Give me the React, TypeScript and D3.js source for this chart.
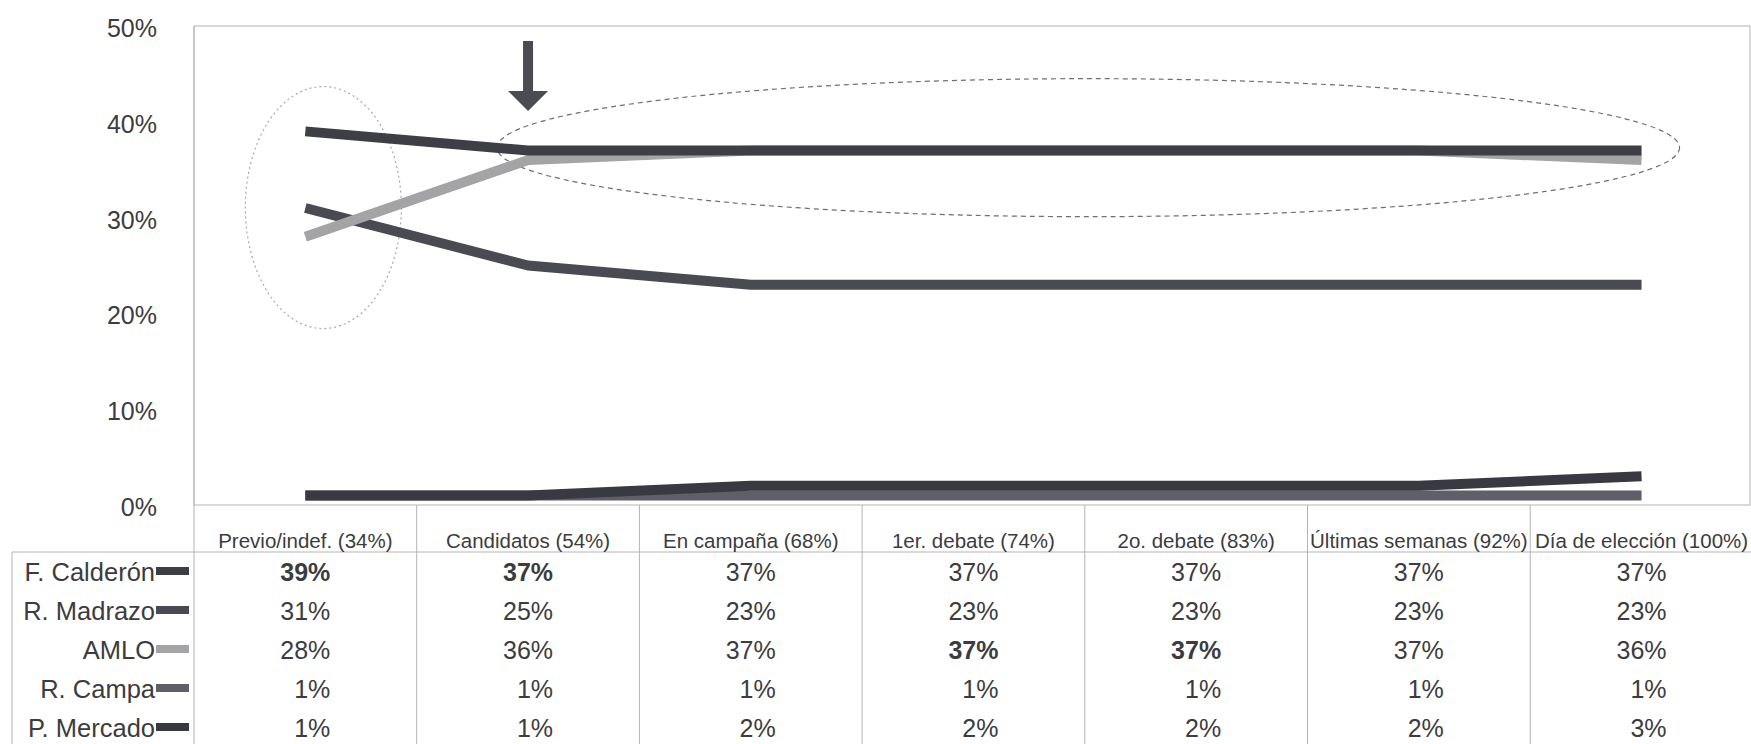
import React from "react";
import * as d3 from "d3";

const categories = [
  "Previo/indef. (34%)",
  "Candidatos (54%)",
  "En campaña (68%)",
  "1er. debate (74%)",
  "2o. debate (83%)",
  "Últimas semanas (92%)",
  "Día de elección (100%)",
];
const seriesNames = ["F. Calderón", "R. Madrazo", "AMLO", "R. Campa", "P. Mercado"];
const calderon = [39, 37, 37, 37, 37, 37, 37];
const madrazo = [31, 25, 23, 23, 23, 23, 23];
const amlo = [28, 36, 37, 37, 37, 37, 36];
const campa = [1, 1, 1, 1, 1, 1, 1];
const mercado = [1, 1, 2, 2, 2, 2, 3];
const yTicks = [0, 10, 20, 30, 40, 50];
// [series index, category index] of values printed in bold
const boldCells = [
  [0, 0],
  [0, 1],
  [2, 3],
  [2, 4],
];

const seriesValues = [calderon, madrazo, amlo, campa, mercado];
const seriesColors = ["#3e3e47", "#4a4a52", "#a4a4a6", "#5f5f67", "#393941"];
const drawOrder = [3, 4, 1, 2, 0];

const W = 1751;
const H = 744;
const FONT = "'Liberation Sans', Arial, sans-serif";
const TEXT = "#3c3c3f";
const GRID = "#b4b4b8";

export default function App() {
  const plotLeft = 194;
  const colW = 222.7;
  const plotTop = 26;
  const plotBottom = 505;
  const tableTop = 552;
  const rowH = 39;

  const x = d3
    .scaleBand<string>()
    .domain(categories)
    .range([plotLeft, plotLeft + colW * categories.length])
    .paddingInner(0)
    .paddingOuter(0);
  const cx = (i: number) => (x(categories[i]) as number) + x.bandwidth() / 2;
  const y = d3.scaleLinear().domain([0, 50]).range([plotBottom, plotTop]);

  const line = d3
    .line<number>()
    .x((_, i) => cx(i))
    .y((d) => y(d));

  const isBold = (s: number, c: number) =>
    boldCells.some(([a, b]) => a === s && b === c);

  const dividers = categories.map((c) => x(c) as number);
  dividers.push(plotLeft + colW * categories.length);

  // annotation shapes positioned via scales
  const e1 = { cx: cx(0) + 18, cy: y(31.05), rx: 78, ry: 121 };
  const e2Left = cx(1) - 31;
  const e2Right = cx(6) + 38;
  const e2 = {
    cx: (e2Left + e2Right) / 2,
    cy: y(37.3),
    rx: (e2Right - e2Left) / 2,
    ry: 69,
  };
  const ax = cx(1);
  const arrowPath = `M${ax - 5},41 L${ax + 5},41 L${ax + 5},91 L${ax + 20},91 L${ax},111 L${ax - 20},91 L${ax - 5},91 Z`;

  return (
    <svg
      width={W}
      height={H}
      style={{ position: "fixed", left: 0, top: 0, background: "#fff" }}
      fontFamily={FONT}
    >
      <rect x={0} y={0} width={W} height={H} fill="#fff" />
      {/* plot frame */}
      <rect
        x={plotLeft}
        y={plotTop}
        width={W - 1 - plotLeft}
        height={plotBottom - plotTop}
        fill="none"
        stroke={GRID}
        strokeWidth={1}
      />
      {/* y-axis labels */}
      {yTicks.map((t) => (
        <text
          key={t}
          x={157}
          y={y(t) + 11}
          textAnchor="end"
          fontSize={25}
          fill={TEXT}
        >
          {t}%
        </text>
      ))}

      {/* ellipses */}
      <ellipse
        cx={e1.cx}
        cy={e1.cy}
        rx={e1.rx}
        ry={e1.ry}
        fill="none"
        stroke="#a8a8ac"
        strokeWidth={1.2}
        strokeDasharray="2 3"
      />
      <ellipse
        cx={e2.cx}
        cy={e2.cy}
        rx={e2.rx}
        ry={e2.ry}
        fill="none"
        stroke="#6e6e74"
        strokeWidth={1.2}
        strokeDasharray="5 4"
      />

      {/* series lines */}
      {drawOrder.map((s) => (
        <path
          key={s}
          d={line(seriesValues[s]) as string}
          fill="none"
          stroke={seriesColors[s]}
          strokeWidth={10}
          strokeLinejoin="round"
          strokeLinecap="butt"
        />
      ))}

      {/* arrow */}
      <path d={arrowPath} fill="#4b4b52" />

      {/* table grid */}
      <line x1={12} x2={W} y1={tableTop} y2={tableTop} stroke={GRID} />
      <line x1={12} x2={12} y1={tableTop} y2={H} stroke={GRID} />
      {dividers.map((d, i) => (
        <line
          key={i}
          x1={d}
          x2={d}
          y1={i === 0 ? plotTop : plotBottom}
          y2={H}
          stroke={GRID}
        />
      ))}

      {/* header labels */}
      {categories.map((c, i) => (
        <text
          key={c}
          x={cx(i)}
          y={548}
          textAnchor="middle"
          fontSize={20.5}
          fill={TEXT}
        >
          {c}
        </text>
      ))}

      {/* rows */}
      {seriesNames.map((name, s) => {
        const base = tableTop + rowH * s + 29;
        return (
          <g key={name}>
            <text x={155} y={base} textAnchor="end" fontSize={25.5} fill={TEXT}>
              {name}
            </text>
            <rect
              x={156}
              y={base - 14}
              width={33}
              height={8}
              fill={seriesColors[s]}
            />
            {seriesValues[s].map((v, i) => (
              <text
                key={i}
                x={cx(i) + 25}
                y={base}
                textAnchor="end"
                fontSize={25}
                fontWeight={isBold(s, i) ? "bold" : "normal"}
                fill={TEXT}
              >
                {v}%
              </text>
            ))}
          </g>
        );
      })}
    </svg>
  );
}
